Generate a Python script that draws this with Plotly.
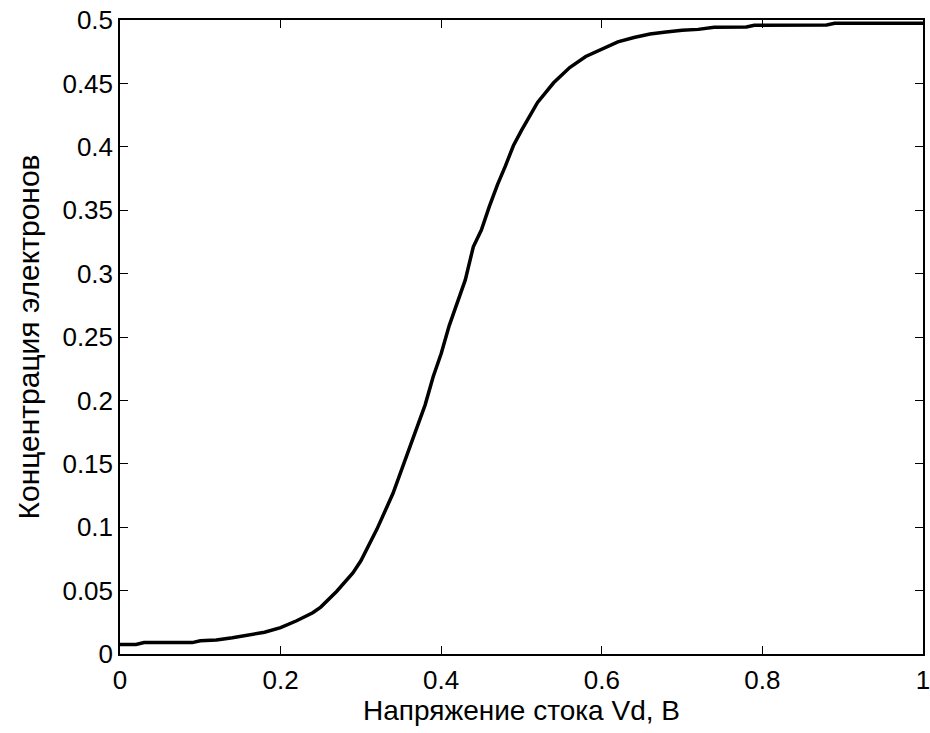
import plotly.graph_objects as go

vd = [0.0, 0.02, 0.03, 0.09, 0.10, 0.12, 0.14, 0.16, 0.18, 0.20, 0.22, 0.24, 0.25,
      0.27, 0.29, 0.30, 0.32, 0.34, 0.36, 0.38, 0.39, 0.40, 0.41, 0.42, 0.43, 0.44,
      0.45, 0.46, 0.47, 0.48, 0.49, 0.50, 0.52, 0.54, 0.56, 0.58, 0.60, 0.62, 0.64,
      0.66, 0.68, 0.70, 0.72, 0.74, 0.78, 0.79, 0.88, 0.89, 1.00]
conc = [0.0075, 0.0075, 0.0090, 0.0090, 0.0105, 0.0110, 0.0128, 0.0148, 0.0172,
        0.0208, 0.0262, 0.0325, 0.0370, 0.0495, 0.0640, 0.0735, 0.0985, 0.1267,
        0.1610, 0.1965, 0.2187, 0.2370, 0.2590, 0.2770, 0.2950, 0.3212, 0.3344,
        0.3530, 0.3700, 0.3850, 0.4010, 0.4130, 0.4350, 0.4505, 0.4625, 0.4712,
        0.4770, 0.4828, 0.4862, 0.4890, 0.4905, 0.4920, 0.4926, 0.4942, 0.4945,
        0.4958, 0.4960, 0.4974, 0.4974]

x_ticks = [0, 0.2, 0.4, 0.6, 0.8, 1]
x_labels = ["0", "0.2", "0.4", "0.6", "0.8", "1"]
y_ticks = [0, 0.05, 0.1, 0.15, 0.2, 0.25, 0.3, 0.35, 0.4, 0.45, 0.5]
y_labels = ["0", "0.05", "0.1", "0.15", "0.2", "0.25", "0.3", "0.35", "0.4", "0.45", "0.5"]

fig = go.Figure()
fig.add_trace(go.Scatter(x=vd, y=conc, mode="lines",
                         line=dict(color="black", width=3.5), showlegend=False))

tick_font = dict(family="Liberation Sans, Arial, sans-serif", size=26, color="black")
title_font = dict(family="Liberation Sans, Arial, sans-serif", size=28, color="black")
ytitle_font = dict(family="Liberation Sans, Arial, sans-serif", size=30, color="black")
fig.update_layout(
    width=930, height=733,
    margin=dict(l=120, r=7, t=20, b=79),
    paper_bgcolor="white", plot_bgcolor="white",
    font=tick_font,
)
fig.update_xaxes(
    range=[0, 1], tickvals=x_ticks, ticktext=x_labels,
    showline=True, linecolor="black", linewidth=1.5, mirror="ticks",
    ticks="inside", ticklen=8, tickcolor="black", showgrid=False, zeroline=False,
    title=dict(text="Напряжение стока Vd, B", standoff=4, font=title_font),
    tickfont=tick_font, ticklabelstandoff=2, ticklabeloverflow="allow",
    automargin="bottom",
)
fig.update_yaxes(
    range=[0, 0.5], tickvals=y_ticks, ticktext=y_labels,
    showline=True, linecolor="black", linewidth=1.5, mirror="ticks",
    ticks="inside", ticklen=8, tickcolor="black", showgrid=False, zeroline=False,
    title=dict(text="Концентрация электронов", standoff=14, font=ytitle_font),
    tickfont=tick_font, ticklabeloverflow="allow",
    automargin="left",
)
# remove the browser's default 8px body margin so the figure fills the window
fig.write_html("out.html", config={"displayModeBar": False},
               post_script="document.body.style.margin='0';")
